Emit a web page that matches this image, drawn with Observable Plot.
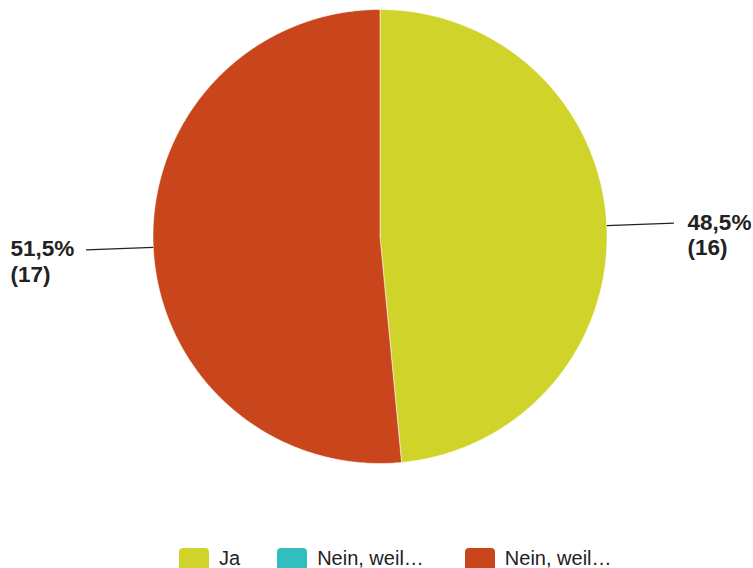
<!DOCTYPE html>
<html><head><meta charset="utf-8">
<script src="https://cdn.jsdelivr.net/npm/d3@7"></script>
<script src="https://cdn.jsdelivr.net/npm/@observablehq/plot@0.6"></script>
<style>
body{margin:0;background:#fff;font-family:"Liberation Sans",Arial,sans-serif;}
#legend{display:flex;align-items:flex-start;padding-left:179px;height:20px;overflow:visible;}
.item{display:flex;align-items:flex-start;}
.sw{width:30px;height:30px;border-radius:4px;margin-right:10px;}
.lab{font-size:20px;line-height:20px;color:#222;}
</style></head>
<body>
<div id="chart"></div>
<div id="legend"></div>
<script>
const categories = ["Ja", "Nein, weil…", "Nein, weil…"];
const counts = [16, 0, 17];
const colors = ["#d0d42a", "#32bebe", "#c9461c"];

const keys = categories.map((c, i) => "k" + i);
const total = d3.sum(counts);
const arcs = d3.pie().sort(null).value((d, i) => counts[i])(keys);

// polygon outline of each slice (unit circle)
const pts = [];
arcs.forEach((a, i) => {
  if (a.endAngle - a.startAngle <= 0) return;
  const k = keys[i];
  pts.push({k, x: 0, y: 0});
  const n = Math.max(2, Math.ceil((a.endAngle - a.startAngle) / 0.01));
  for (let j = 0; j <= n; j++) {
    const t = a.startAngle + (a.endAngle - a.startAngle) * j / n;
    pts.push({k, x: Math.sin(t), y: Math.cos(t)});
  }
  pts.push({k, x: 0, y: 0});
});

const labels = arcs.filter(a => a.endAngle > a.startAngle).map((a) => {
  const i = a.index;
  const m = (a.startAngle + a.endAngle) / 2;
  const ex = Math.sin(m), ey = Math.cos(m);
  const side = ex >= 0 ? 1 : -1;
  return {
    x1: ex, y1: ey, x2: side * 1.295, y2: ey + side * 0.011, side,
    tx: side > 0 ? 1.355 : -1.628,
    text: (counts[i] / total * 100).toFixed(1).replace(".", ",") + "%\n(" + counts[i] + ")"
  };
});

const chart = Plot.plot({
  width: 753, height: 548,
  marginLeft: 152.5, marginRight: 146.5, marginTop: 9, marginBottom: 85,
  x: {domain: [-1, 1], axis: null},
  y: {domain: [-1, 1], axis: null},
  color: {domain: keys, range: colors},
  style: {fontFamily: '"Liberation Sans", Arial, sans-serif', background: "#fff"},
  marks: [
    Plot.line(pts, {x: "x", y: "y", z: "k", fill: "k", stroke: "#fff", strokeWidth: 0.8, strokeOpacity: 0.7}),
    Plot.link(labels, {x1: "x1", y1: "y1", x2: "x2", y2: "y2", stroke: "#222", strokeWidth: 1.3}),
    Plot.text(labels, {x: "tx", y: "y2", text: "text", textAnchor: "start", lineAnchor: "middle", lineHeight: 1.14, dy: 11, fontSize: 22.5, fontWeight: "bold", fill: "#222"})
  ]
});
document.getElementById("chart").appendChild(chart);

const leg = document.getElementById("legend");
const gaps = [37, 41, 0];
categories.forEach((c, i) => {
  const it = document.createElement("div"); it.className = "item";
  it.style.marginRight = gaps[i] + "px";
  const sw = document.createElement("div"); sw.className = "sw"; sw.style.background = colors[i];
  const lb = document.createElement("div"); lb.className = "lab"; lb.textContent = c;
  it.appendChild(sw); it.appendChild(lb); leg.appendChild(it);
});
</script>
</body></html>
